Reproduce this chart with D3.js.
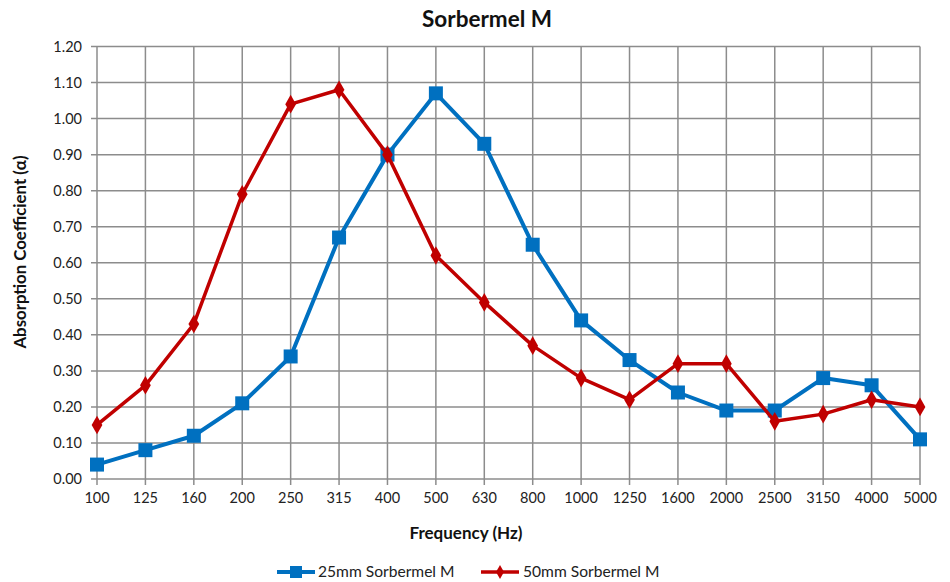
<!DOCTYPE html>
<html><head><meta charset="utf-8">
<script src="https://cdn.jsdelivr.net/npm/d3@7"></script>
<style>body{margin:0;background:#fff;font-family:Lato,"Open Sans",sans-serif;}</style>
</head><body>
<svg id="c" width="950" height="582"></svg>
<script>
const categories = ["100","125","160","200","250","315","400","500","630","800","1000","1250","1600","2000","2500","3150","4000","5000"];
const series25 = [0.04,0.08,0.12,0.21,0.34,0.67,0.90,1.07,0.93,0.65,0.44,0.33,0.24,0.19,0.19,0.28,0.26,0.11];
const series50 = [0.15,0.26,0.43,0.79,1.04,1.08,0.90,0.62,0.49,0.37,0.28,0.22,0.32,0.32,0.16,0.18,0.22,0.20];
const yTicks = [0,0.1,0.2,0.3,0.4,0.5,0.6,0.7,0.8,0.9,1.0,1.1,1.2];
const seriesNames = ["25mm Sorbermel M","50mm Sorbermel M"];

const svg = d3.select("#c");
const L=97,R=920,T=46.5,B=479;
const x = d3.scalePoint().domain(categories).range([L,R]);
const y = d3.scaleLinear().domain([0,1.2]).range([B,T]);
const grid="#8c8c8c";

const g = svg.append("g");
g.selectAll(".hg").data(yTicks).enter().append("line")
 .attr("x1",L-6).attr("x2",R).attr("y1",d=>y(d)).attr("y2",d=>y(d))
 .attr("stroke",grid).attr("stroke-width",1.5);
g.selectAll(".vg").data(categories).enter().append("line")
 .attr("x1",d=>x(d)).attr("x2",d=>x(d)).attr("y1",T).attr("y2",B+6)
 .attr("stroke",grid).attr("stroke-width",1.5);

g.selectAll(".yl").data(yTicks).enter().append("text")
 .attr("x",82).attr("y",d=>y(d)).attr("dy","0.35em").attr("text-anchor","end")
 .attr("font-size",14.5).attr("fill","#222").text(d=>d.toFixed(2));
g.selectAll(".xl").data(categories).enter().append("text")
 .attr("x",d=>x(d)).attr("y",B+24).attr("text-anchor","middle")
 .attr("font-size",14.5).attr("fill","#222").text(d=>d);

svg.append("text").attr("x",487).attr("y",27).attr("text-anchor","middle")
 .attr("font-size",22.5).attr("font-weight","bold").attr("fill","#111").text("Sorbermel M");
svg.append("text").attr("x",466).attr("y",539).attr("text-anchor","middle")
 .attr("font-size",17).attr("font-weight","bold").attr("fill","#111").text("Frequency (Hz)");
svg.append("text").attr("transform","translate(26,252) rotate(-90)").attr("text-anchor","middle")
 .attr("font-size",16.8).attr("font-weight","bold").attr("fill","#111").text("Absorption Coefficient (α)");

const line = d3.line().x((d,i)=>x(categories[i])).y(d=>y(d));
const blue="#0070C0", red="#C00000";
svg.append("path").datum(series25).attr("d",line).attr("fill","none")
 .attr("stroke",blue).attr("stroke-width",4).attr("stroke-linejoin","round");
svg.selectAll(".sq").data(series25).enter().append("rect")
 .attr("x",(d,i)=>x(categories[i])-7).attr("y",d=>y(d)-7).attr("width",14).attr("height",14).attr("fill",blue);
svg.append("path").datum(series50).attr("d",line).attr("fill","none")
 .attr("stroke",red).attr("stroke-width",3.5).attr("stroke-linejoin","round");
const dia = d3.symbol().type(d3.symbolDiamond).size(100);
svg.selectAll(".dm").data(series50).enter().append("path")
 .attr("d",dia).attr("transform",(d,i)=>`translate(${x(categories[i])},${y(d)})`).attr("fill",red);

const lg = svg.append("g");
lg.append("line").attr("x1",277).attr("x2",315).attr("y1",572).attr("y2",572).attr("stroke",blue).attr("stroke-width",4);
lg.append("rect").attr("x",290).attr("y",566).attr("width",12).attr("height",12).attr("fill",blue);
lg.append("text").attr("x",318).attr("y",572).attr("dy","0.35em").attr("font-size",15.6).attr("fill","#222").text(seriesNames[0]);
lg.append("line").attr("x1",481).attr("x2",519).attr("y1",572).attr("y2",572).attr("stroke",red).attr("stroke-width",3.5);
lg.append("path").attr("d",d3.symbol().type(d3.symbolDiamond).size(55)).attr("transform","translate(500,572)").attr("fill",red);
lg.append("text").attr("x",523).attr("y",572).attr("dy","0.35em").attr("font-size",15.6).attr("fill","#222").text(seriesNames[1]);
</script>
</body></html>
